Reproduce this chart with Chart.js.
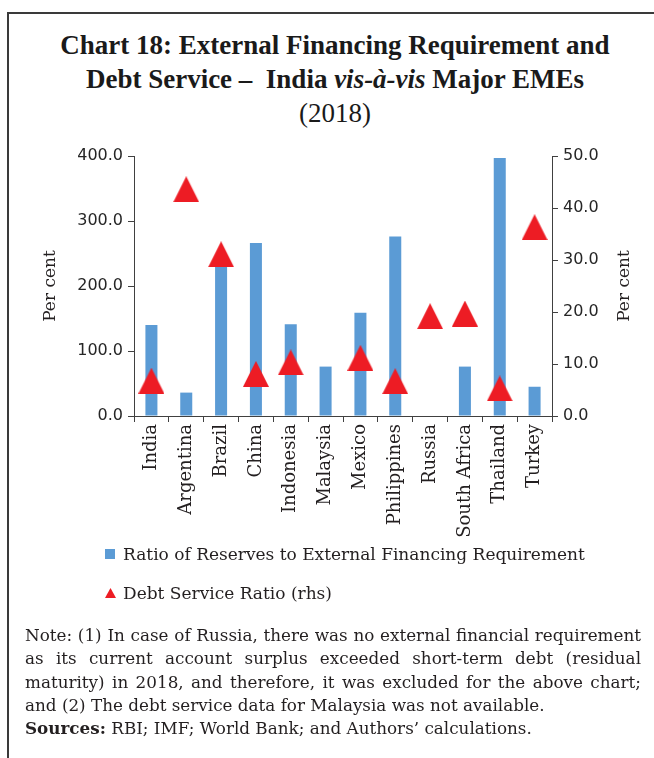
<!DOCTYPE html>
<html>
<head>
<meta charset="utf-8">
<script src="https://cdn.jsdelivr.net/npm/chart.js@4.4.1/dist/chart.umd.min.js"></script>
<style>
  html, body { margin: 0; padding: 0; background: #fff; }
  body { width: 654px; height: 758px; position: relative; overflow: hidden; font-family: "DejaVu Serif", serif; color: #231f20; }
  #frame { position: absolute; left: 7px; top: 12px; width: 700px; height: 800px; border-left: 2px solid #3a3a3a; border-top: 2px solid #3a3a3a; }
  #title { position: absolute; left: 0; width: 670px; top: 28px; text-align: center; font-family: "Liberation Serif", serif; font-size: 27px; line-height: 34px; color: #1a1a1a; }
  #title b { font-weight: bold; }
  #chartBox { position: absolute; left: 0; top: 0; width: 654px; height: 758px; }
  .legend-row { position: absolute; left: 105px; font-size: 17px; line-height: 20px; white-space: nowrap; }
  .swatch { position: absolute; left: 0; top: 5px; width: 10px; height: 10px; background: #5b9bd5; }
  .tri { position: absolute; left: 0; top: 5px; }
  .legend-row span.t { position: absolute; left: 18px; top: 0; }
  #note { position: absolute; left: 25px; width: 616px; top: 624px; font-size: 16.8px; line-height: 23.3px; }
  #note div { white-space: nowrap; }
  #note div.j { text-align: justify; text-align-last: justify; }
</style>
</head>
<body>
<div id="frame"></div>
<div id="title"><b>Chart 18: External Financing Requirement and<br>Debt Service &ndash;&nbsp; India <i>vis-à-vis</i> Major EMEs</b><br>(2018)</div>
<div id="chartBox"><canvas id="c" width="654" height="758"></canvas></div>
<div class="legend-row" style="top:544px"><div class="swatch"></div><span class="t">Ratio of Reserves to External Financing Requirement</span></div>
<div class="legend-row" style="top:583px"><svg class="tri" width="11" height="10" viewBox="0 0 11 10"><polygon points="5.5,0 11,10 0,10" fill="#ed1c24"/></svg><span class="t">Debt Service Ratio (rhs)</span></div>
<div id="note">
  <div class="j">Note: (1) In case of Russia, there was no external financial requirement</div>
  <div class="j">as its current account surplus exceeded short-term debt (residual</div>
  <div class="j">maturity) in 2018, and therefore, it was excluded for the above chart;</div>
  <div>and (2) The debt service data for Malaysia was not available.</div>
  <div><b>Sources:</b> RBI; IMF; World Bank; and Authors’ calculations.</div>
</div>
<script>
// Countries on the category axis
const categories = ['India', 'Argentina', 'Brazil', 'China', 'Indonesia', 'Malaysia',
  'Mexico', 'Philippines', 'Russia', 'South Africa', 'Thailand', 'Turkey'];

// Ratio of reserves to external financing requirement (per cent, left axis)
const reserveRatio = [140, 36, 240, 266, 141, 76, 159, 276, null, 76, 397, 45];

// Debt service ratio (per cent, right axis)
const debtServiceRatio = [6.8, 43.6, 31.1, 8.1, 10.3, null, 11.2, 6.7, 19.2, 19.7, 5.3, 36.3];

// Axis ranges and tick spacing
const leftAxisTicks = [0, 100, 200, 300, 400];
const rightAxisTicks = [0, 10, 20, 30, 40, 50];

const BLUE = '#5b9bd5';
const RED = '#ed1c24';
const AXIS = '#404040';
const TICK_TEXT = '#262626';

// Isosceles triangle marker, as wide as it is tall
function triangleMarker(size, color) {
  const c = document.createElement('canvas');
  c.width = size; c.height = size;
  const g = c.getContext('2d');
  g.fillStyle = color;
  g.beginPath();
  g.moveTo(size / 2, 0);
  g.lineTo(size, size);
  g.lineTo(0, size);
  g.closePath();
  g.fill();
  return c;
}

// Right-hand axis title, rotated the same way as the left one
const rightAxisTitle = {
  id: 'rightAxisTitle',
  afterDraw(chart) {
    const s = chart.scales.y1;
    const ctx = chart.ctx;
    ctx.save();
    ctx.translate(s.right - 10, (s.top + s.bottom) / 2);
    ctx.rotate(-Math.PI / 2);
    ctx.font = '17px "DejaVu Serif"';
    ctx.fillStyle = '#231f20';
    ctx.textAlign = 'center';
    ctx.textBaseline = 'middle';
    ctx.fillText('Per cent', 0, 0);
    ctx.restore();
  }
};

const tickFont = { family: 'DejaVu Sans', size: 16 };

new Chart(document.getElementById('c'), {
  type: 'bar',
  data: {
    labels: categories,
    datasets: [
      {
        type: 'line',
        label: 'Debt Service Ratio (rhs)',
        data: debtServiceRatio,
        yAxisID: 'y1',
        showLine: false,
        pointStyle: triangleMarker(26, RED),
        pointRadius: 13,
        pointHoverRadius: 13,
        order: 0
      },
      {
        type: 'bar',
        label: 'Ratio of Reserves to External Financing Requirement',
        data: reserveRatio,
        yAxisID: 'y',
        backgroundColor: BLUE,
        categoryPercentage: 1,
        barPercentage: 0.345,
        order: 1
      }
    ]
  },
  options: {
    responsive: false,
    animation: false,
    events: [],
    layout: { padding: { left: 40, right: 19, top: 156, bottom: 212 } },
    plugins: { legend: { display: false }, title: { display: false }, tooltip: { enabled: false } },
    scales: {
      x: {
        type: 'category',
        offset: true,
        grid: { offset: true, drawOnChartArea: false, drawTicks: true, tickLength: 6, color: AXIS },
        border: { color: AXIS, width: 1 },
        ticks: { autoSkip: false, maxRotation: 90, minRotation: 90, padding: 2,
                 font: { family: 'DejaVu Serif', size: 18 }, color: '#231f20' },
        afterFit(scale) { scale.height = 130; }
      },
      y: {
        position: 'left',
        min: leftAxisTicks[0],
        max: leftAxisTicks[leftAxisTicks.length - 1],
        afterBuildTicks(scale) { scale.ticks = leftAxisTicks.map(v => ({ value: v })); },
        grid: { drawOnChartArea: false, drawTicks: true, tickLength: 6, color: AXIS },
        border: { color: AXIS, width: 1 },
        ticks: { padding: 5, font: tickFont, color: TICK_TEXT, callback: v => v.toFixed(1) },
        title: { display: true, text: 'Per cent', padding: 0,
                 font: { family: 'DejaVu Serif', size: 17 }, color: '#231f20' },
        afterFit(scale) { scale.width = 94; }
      },
      y1: {
        position: 'right',
        min: rightAxisTicks[0],
        max: rightAxisTicks[rightAxisTicks.length - 1],
        afterBuildTicks(scale) { scale.ticks = rightAxisTicks.map(v => ({ value: v })); },
        grid: { drawOnChartArea: false, drawTicks: true, tickLength: 6, color: AXIS },
        border: { color: AXIS, width: 1 },
        ticks: { padding: 5, font: tickFont, color: TICK_TEXT, callback: v => v.toFixed(1) },
        afterFit(scale) { scale.width = 83; }
      }
    }
  },
  plugins: [rightAxisTitle]
});
</script>
</body>
</html>
